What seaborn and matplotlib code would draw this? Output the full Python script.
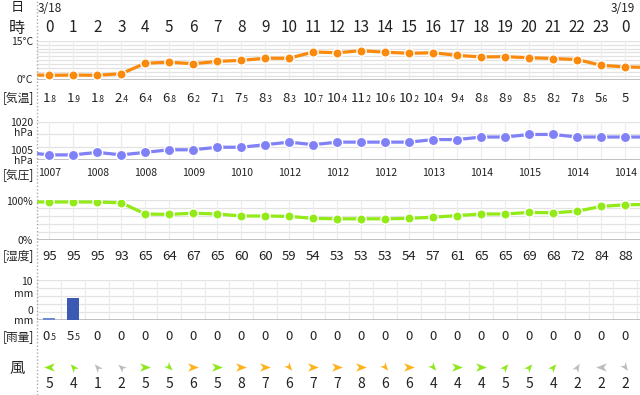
import numpy as np
import pandas as pd
import matplotlib.pyplot as plt
import seaborn as sns

sns.set_style('white')
plt.rcParams['font.family'] = ['Noto Sans CJK JP', 'DejaVu Sans']

# ==================== データ ====================
hours = list(range(25))
hour_labels = [str(h) for h in range(24)] + ['0']
temp = [1.8, 1.9, 1.8, 2.4, 6.4, 6.8, 6.2, 7.1, 7.5, 8.3, 8.3, 10.7, 10.4,
        11.2, 10.6, 10.2, 10.4, 9.4, 8.8, 8.9, 8.5, 8.2, 7.8, 5.6, 5]
pres = [1007, 1007, 1008, 1007, 1008, 1009, 1009, 1010, 1010, 1011, 1012, 1011, 1012,
        1012, 1012, 1012, 1013, 1013, 1014, 1014, 1015, 1015, 1014, 1014, 1014]
humid = [95, 95, 95, 93, 65, 64, 67, 65, 60, 60, 59, 54, 53,
         53, 53, 54, 57, 61, 65, 65, 69, 68, 72, 84, 88]
rain = [0.5, 5.5, 0, 0, 0, 0, 0, 0, 0, 0, 0, 0, 0,
        0, 0, 0, 0, 0, 0, 0, 0, 0, 0, 0, 0]
wind_speed = [5, 4, 1, 2, 5, 5, 6, 5, 8, 7, 6, 7, 7,
              8, 6, 6, 4, 4, 4, 5, 5, 4, 2, 2, 2]
# 矢印の向き（度, 右=0, 反時計回り）
wind_dir = [180, 130, 130, 140, 0, -45, 0, 0, 0, 0, -50, 0, 0,
            0, -50, 0, -50, 0, 0, 50, 50, 50, 60, 180, -55]
# 表示範囲の外（前日23時・翌1時）へ続く線の値
temp_edge = [2.0, 4.8]
pres_edge = [1008, 1014]
humid_edge = [95, 89]

# ==================== レイアウト ====================
W, H = 640, 395
X0 = 36.7            # グラフ領域の左端(px)
C0, DX = 49.3, 24.0  # 0時の列中心と1時間の幅(px)
XL = ((X0 - C0) / DX, (W - C0) / DX)
TXT = '#222222'

fig = plt.figure(figsize=(W / 100, H / 100), dpi=100)
renderer = fig.canvas.get_renderer()


def col(h):
    return C0 + DX * h


def ftext(px, py, s, size, ha='center', va='center', **kw):
    return fig.text(px / W, 1 - py / H, s, fontsize=size, ha=ha, va=va, color=TXT, **kw)


def panel(top, bottom, ylim, grid, vlines):
    ax = fig.add_axes([X0 / W, 1 - bottom / H, (W - X0) / W, (bottom - top) / H])
    for y in grid:
        ax.axhline(y, color='#e2e2e2', lw=0.9, zorder=0)
    for v in vlines:
        ax.axvline(v, color='#ececec', lw=0.9, zorder=0)
    ax.axhline(ylim[0], color='#b0b0b0', lw=1.1, zorder=1)
    return ax


def finish(ax, ylim):
    ax.set_xlim(XL)
    ax.set_ylim(ylim)
    ax.set_xticks([])
    ax.set_yticks([])
    ax.set_xlabel('')
    ax.set_ylabel('')
    for s in ax.spines.values():
        s.set_visible(False)
    ax.patch.set_alpha(0)


def line_panel(ax, vals, edge, color, size):
    df = pd.DataFrame({'h': [-1] + hours + [25], 'v': [edge[0]] + vals + [edge[1]]})
    sns.lineplot(data=df, x='h', y='v', color=color, lw=2.3, ax=ax, zorder=2)
    sns.scatterplot(x=hours, y=vals, color=color, s=size, edgecolor='white',
                    linewidth=1.0, ax=ax, zorder=3, legend=False)


def dec_label(xc, base, val, big, small):
    if float(val).is_integer():
        ftext(xc, base, str(int(val)), big, va='baseline')
        return
    i_s, f_s = f'{val:.1f}'.split('.')
    t1 = ftext(0, base, i_s, big, ha='left', va='baseline')
    t2 = ftext(0, base, '.' + f_s, small, ha='left', va='baseline')
    w1 = t1.get_window_extent(renderer).width
    w2 = t2.get_window_extent(renderer).width
    left = xc - (w1 + w2 - 1) / 2
    t1.set_x(left / W)
    t2.set_x((left + w1 - 1) / W)


# 左の点線
fig.add_artist(plt.Line2D([X0 / W, X0 / W], [0, 1], transform=fig.transFigure,
                          color='#aaaaaa', lw=1, ls=(0, (1, 1.5))))

# ==================== 見出し ====================
ftext(17, 8, '日', 9.5)
ftext(17, 28, '時', 11.5)
ftext(37.5, 8, '3/18', 8.5, ha='left')
ftext(col(24) - 3, 8, '3/19', 8.5)
for h, lab in zip(hours, hour_labels):
    ftext(col(h), 27, lab, 11)

# ==================== 気温 ====================
ax_t = panel(40.7, 80, (0, 15), np.arange(0, 15.1, 1.5), hours)
line_panel(ax_t, temp, temp_edge, '#fb8a0c', 45)
finish(ax_t, (0, 15))
ftext(33, 42, '15°C', 7.5, ha='right')
ftext(33, 80, '0°C', 7.5, ha='right')
ftext(18, 98, '[気温]', 8.5)
for h, v in zip(hours, temp):
    dec_label(col(h), 102.5, v, 9.5, 6)

# ==================== 気圧 ====================
ax_p = panel(121.7, 160, (1005, 1020), [1010, 1015, 1020], hours)
line_panel(ax_p, pres, pres_edge, '#8080f7', 55)
finish(ax_p, (1005, 1020))
ftext(33, 123.5, '1020', 7.5, ha='right')
ftext(33, 133.5, 'hPa', 7.5, ha='right')
ftext(33, 150.5, '1005', 7.5, ha='right')
ftext(33, 161, 'hPa', 7.5, ha='right')
ftext(18, 175, '[気圧]', 8.5)
for h in hours[::2]:
    ftext(col(h), 172.5, str(pres[h]), 7.5)

# ==================== 湿度 ====================
ax_h = panel(200, 240, (0, 100), [20, 40, 60, 80, 100], hours)
line_panel(ax_h, humid, humid_edge, '#92ea16', 45)
finish(ax_h, (0, 100))
ftext(33, 202, '100%', 7.5, ha='right')
ftext(33, 240.5, '0%', 7.5, ha='right')
ftext(18, 256, '[湿度]', 8.5)
for h, v in zip(hours, humid):
    ftext(col(h), 256, str(v), 9.5)

# ==================== 雨量 ====================
ax_r = panel(280, 320, (0, 10), [2, 4, 6, 8, 10], [h + 0.5 for h in range(-1, 25)])
rain_colors = ['#5f85e3' if r < 1 else '#2a50c6' for r in rain]
sns.barplot(x=hours, y=rain, hue=hours, palette=rain_colors, native_scale=True,
            dodge=False, legend=False, width=0.5, linewidth=0, ax=ax_r, zorder=2)
finish(ax_r, (0, 10))
ftext(33, 282, '10', 7.5, ha='right')
ftext(33, 294, 'mm', 7.5, ha='right')
ftext(33, 311, '0', 7.5, ha='right')
ftext(33, 321, 'mm', 7.5, ha='right')
ftext(18, 337, '[雨量]', 8.5)
for h, v in zip(hours, rain):
    dec_label(col(h), 340.5, v, 9.5, 6)

# ==================== 風 ====================
ax_w = fig.add_axes([0, 0, 1, 1])
ax_w.axis('off')
ax_w.patch.set_alpha(0)
ftext(17, 368, '風', 11)
dart = np.array([[1, 0], [-1, 0.78], [-0.45, 0], [-1, -0.78], [1, 0]])
for h, spd, ang in zip(hours, wind_speed, wind_dir):
    c = '#bdbdbd' if spd <= 2 else ('#8de81b' if spd <= 5 else '#ffb21c')
    a = np.deg2rad(ang)
    rot = np.array([[np.cos(a), -np.sin(a)], [np.sin(a), np.cos(a)]])
    verts = (rot @ dart.T).T
    sns.scatterplot(x=[col(h)], y=[367], marker=verts, s=60, color=c,
                    linewidth=0, ax=ax_w, legend=False)
    ftext(col(h), 384, str(spd), 10)
ax_w.set_xlim(0, W)
ax_w.set_ylim(H, 0)

fig.savefig('out.png', dpi=100)
